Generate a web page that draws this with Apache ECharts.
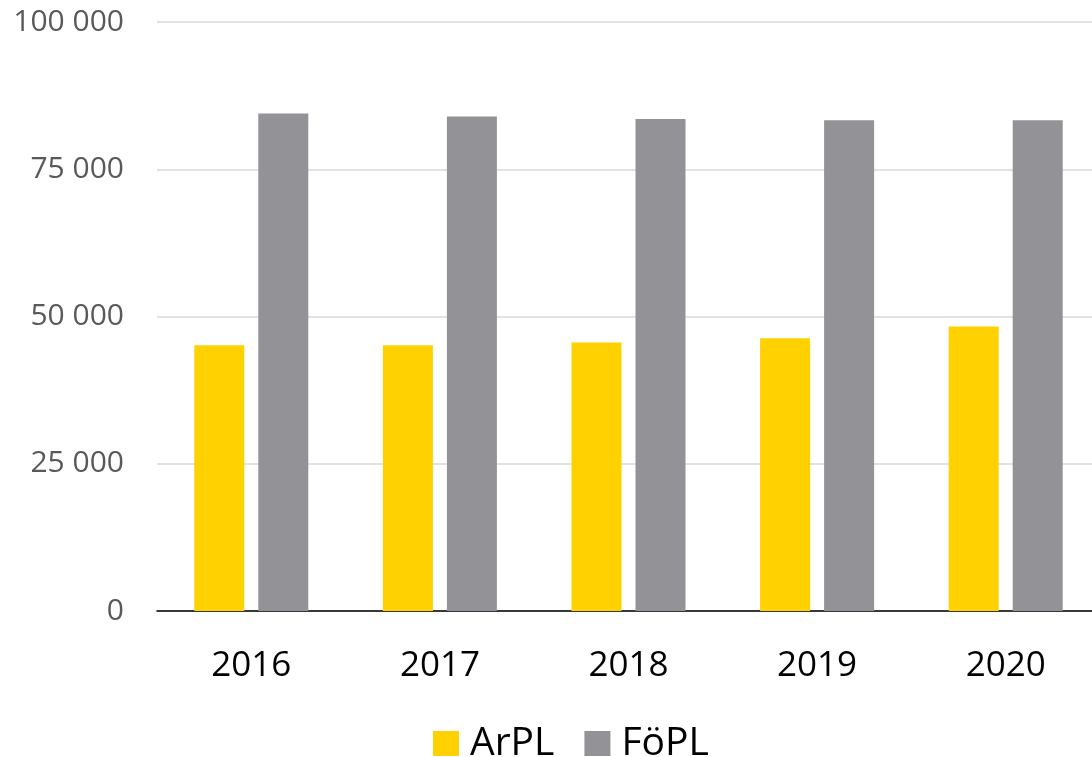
<!DOCTYPE html>
<html>
<head>
<meta charset="utf-8">
<script src="https://cdn.jsdelivr.net/npm/echarts@6/dist/echarts.min.js"></script>
<style>
  html, body { margin: 0; padding: 0; background: #fff; }
  #chart { width: 1092px; height: 757px; }
</style>
</head>
<body>
<div id="chart"></div>
<script>
// data
const years = ['2016', '2017', '2018', '2019', '2020'];
const arpl = [45100, 45100, 45600, 46300, 48300];
const fopl = [84450, 83950, 83550, 83300, 83300];
const yTicks = [0, 25000, 50000, 75000, 100000];

const chart = echarts.init(document.getElementById('chart'));

// "100 000" style with space as thousands separator
function fmt(v) {
  return String(v).replace(/\B(?=(\d{3})+(?!\d))/g, ' ');
}

chart.setOption({
  animation: false,
  textStyle: { fontFamily: 'Open Sans' },
  grid: {
    left: 157,
    top: 22,
    width: 943,
    height: 589,
    outerBoundsMode: 'none'
  },
  legend: {
    data: ['ArPL', 'FöPL'],
    left: 428,
    top: 719,
    itemWidth: 26,
    itemHeight: 25,
    itemGap: 30,
    icon: 'rect',
    textStyle: { fontSize: 39, color: '#000', fontFamily: 'Open Sans', padding: [0, 0, 0, 6] }
  },
  xAxis: {
    type: 'category',
    data: years,
    axisTick: { show: false },
    axisLine: { lineStyle: { color: '#000', width: 1.5 } },
    axisLabel: { fontSize: 35, color: '#000', margin: 38 }
  },
  yAxis: {
    type: 'value',
    min: yTicks[0],
    max: yTicks[yTicks.length - 1],
    interval: yTicks[1] - yTicks[0],
    axisLine: { show: false },
    axisTick: { show: false },
    splitLine: { lineStyle: { color: '#d9d9d9', width: 1.5 } },
    axisLabel: { fontSize: 30, color: '#595959', margin: 33, formatter: fmt }
  },
  series: [{
    name: 'ArPL',
    type: 'bar',
    data: arpl,
    barWidth: 50,
    barGap: '28%',
    itemStyle: { color: '#FFD100' }
  }, {
    name: 'FöPL',
    type: 'bar',
    data: fopl,
    barWidth: 50,
    itemStyle: { color: '#939296' }
  }]
});
</script>
</body>
</html>
